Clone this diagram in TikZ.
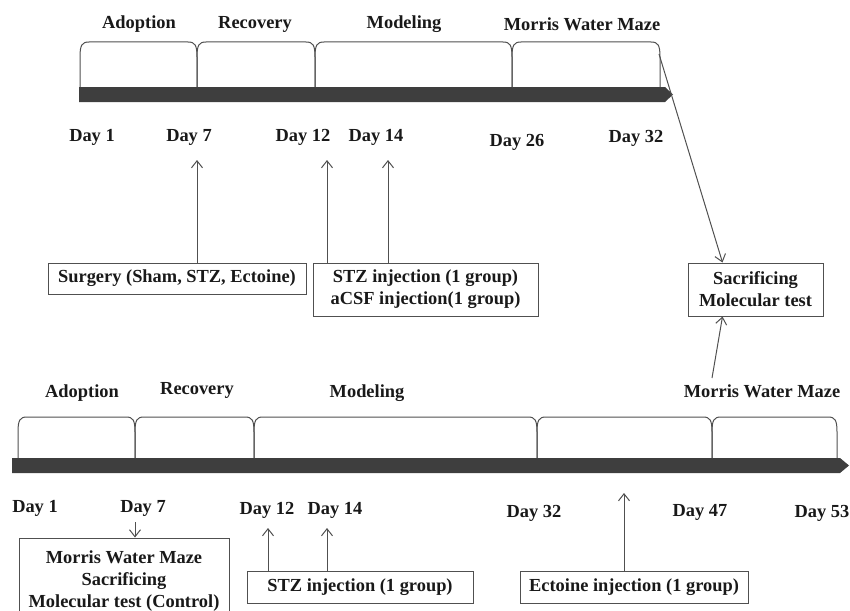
\documentclass[tikz,border=0pt]{standalone}
\usepackage{fontspec}
\setmainfont{Liberation Serif}
\usetikzlibrary{arrows.meta, positioning, calc}
\definecolor{tlBar}{RGB}{62,62,62}
\definecolor{tlLine}{RGB}{80,80,80}
\definecolor{tlText}{RGB}{25,25,25}
\tikzset{
  phaselabel/.style={font=\fontsize{18.4}{21}\selectfont\bfseries, text=tlText, inner sep=0pt},
  daylabel/.style={font=\fontsize{18.4}{21}\selectfont\bfseries, text=tlText, inner sep=0pt},
  eventbox/.style={rectangle, draw=tlLine, line width=1pt, fill=white, text=tlText,
    font=\fontsize{18.4}{22}\selectfont\bfseries, align=center, inner sep=0pt},
  arrow/.style={-{Straight Barb[length=7pt, width=11pt]}, line width=1pt, color=tlLine},
  bracket/.style={draw=tlLine, line width=1pt},
  timebar/.style={fill=tlBar},
}

\begin{document}
\begin{tikzpicture}[x=1pt, y=-1pt]
\clip (0,0) rectangle (850,610);

%% TOP TIMELINE
\fill[timebar] (79,87) -- (665,87) -- (673,94.5) -- (665,102) -- (79,102) -- cycle;
\foreach \xa/\xb in {80/197, 197/315, 315/512, 512/660}
  \draw[bracket] (\xa,87) -- (\xa,57) .. controls (\xa,45) and (\xa+2,42) .. (\xa+9,42)
    -- (\xb-9,42) .. controls (\xb-2,42) and (\xb,45) .. (\xb,57) -- (\xb,87);

\node[phaselabel] (t_adopt) at (139,24) {Adoption};
\node[phaselabel] (t_recov) at (255,24) {Recovery};
\node[phaselabel] (t_model) at (404,24) {Modeling};
\node[phaselabel] (t_mwm)   at (582,24) {Morris Water Maze};

\node[daylabel] (t_d1)  at (92,137)  {Day 1};
\node[daylabel] (t_d7)  at (189,137) {Day 7};
\node[daylabel] (t_d12) at (303,137) {Day 12};
\node[daylabel] (t_d14) at (376,137) {Day 14};
\node[daylabel] (t_d26) at (517,142) {Day 26};
\node[daylabel] (t_d32) at (636,138) {Day 32};

%% top event boxes
\node[eventbox, minimum width=258, minimum height=31] (surgery) at (177,278.5)
  {Surgery (Sham, STZ, Ectoine)};
\node[eventbox, minimum width=225, minimum height=53] (t_inj) at (425.5,289.5)
  {STZ injection (1 group)\\aCSF injection(1 group)};
\node[eventbox, minimum width=135, minimum height=53] (sacrif) at (755.5,289.5)
  {Sacrificing\\Molecular test};

\coordinate (tip7)  at (197,160);
\coordinate (tip12) at (327,160);
\coordinate (tip14) at (388,160);
\coordinate (mwmEnd) at (659,54);

\draw[arrow] (surgery.north -| tip7) -- (tip7);
\draw[arrow] (t_inj.north -| tip12) -- (tip12);
\draw[arrow] (t_inj.north -| tip14) -- (tip14);
\draw[arrow] (mwmEnd) -- ($(sacrif.north)+(-33,0)$);

%% BOTTOM TIMELINE
\fill[timebar] (12,458) -- (840,458) -- (849,465.5) -- (840,473) -- (12,473) -- cycle;
\foreach \xa/\xb in {18/135, 135/254, 254/537, 537/712, 712/837}
  \draw[bracket] (\xa,458) -- (\xa,432) .. controls (\xa,420) and (\xa+2,417) .. (\xa+9,417)
    -- (\xb-9,417) .. controls (\xb-2,417) and (\xb,420) .. (\xb,432) -- (\xb,458);

\node[phaselabel] (b_adopt) at (82,393)  {Adoption};
\node[phaselabel] (b_recov) at (197,390) {Recovery};
\node[phaselabel] (b_model) at (367,393) {Modeling};
\node[phaselabel] (b_mwm)   at (762,391) {Morris Water Maze};

\node[daylabel] (b_d1)  at (35,508)  {Day 1};
\node[daylabel] (b_d7)  at (143,508) {Day 7};
\node[daylabel] (b_d12) at (267,510) {Day 12};
\node[daylabel] (b_d14) at (335,510) {Day 14};
\node[daylabel] (b_d32) at (534,513) {Day 32};
\node[daylabel] (b_d47) at (700,512) {Day 47};
\node[daylabel] (b_d53) at (822,513) {Day 53};

%% bottom event boxes
\node[eventbox, minimum width=210, minimum height=86] (control) at (124,581)
  {Morris Water Maze\\Sacrificing\\Molecular test (Control)};
\node[eventbox, minimum width=226, minimum height=32] (b_inj) at (360,587)
  {STZ injection (1 group)};
\node[eventbox, minimum width=228, minimum height=32] (ectoine) at (634,587)
  {Ectoine injection (1 group)};

\coordinate (foot7)  at (135,522);
\coordinate (btip12) at (268,528);
\coordinate (btip14) at (327,528);
\coordinate (btipEc) at (624,493);
\coordinate (mwmFoot) at (712,378);

\draw[arrow] (foot7) -- (control.north -| foot7);
\draw[arrow] (b_inj.north -| btip12) -- (btip12);
\draw[arrow] (b_inj.north -| btip14) -- (btip14);
\draw[arrow] (ectoine.north -| btipEc) -- (btipEc);
\draw[arrow] (mwmFoot) -- ($(sacrif.south)+(-33,0)$);

\end{tikzpicture}
\end{document}
